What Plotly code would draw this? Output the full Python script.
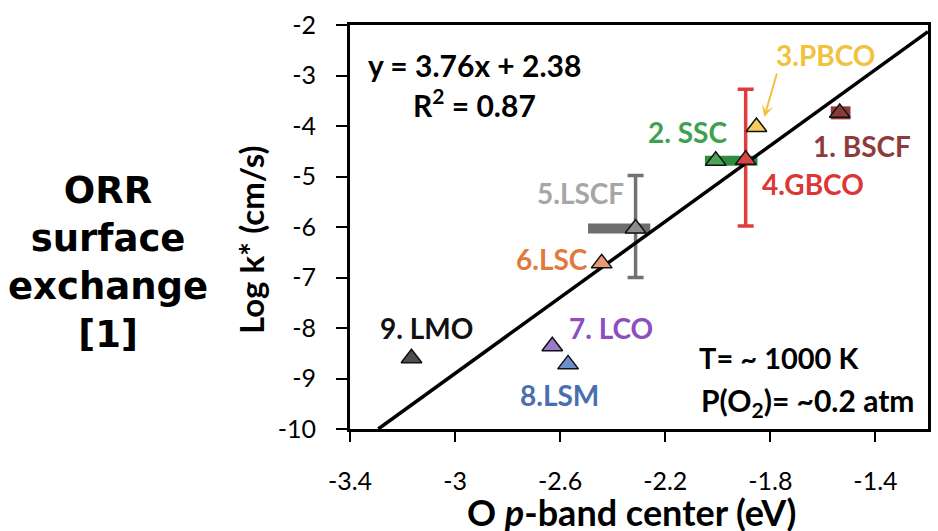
import plotly.graph_objects as go

# ---- data ----
materials = ["1. BSCF", "2. SSC", "3.PBCO", "4.GBCO", "5.LSCF", "6.LSC", "7. LCO", "8.LSM", "9. LMO"]
o_pband = [-1.536, -2.008, -1.853, -1.894, -2.313, -2.442, -2.630, -2.570, -3.166]
log_k = [-3.74, -4.69, -4.02, -4.67, -6.03, -6.72, -8.36, -8.72, -8.60]
marker_colors = ["#8B3A3A", "#4CA55A", "#F5CD5A", "#D94545", "#8C8C8C", "#E89A72", "#9B7BC9", "#6F8FC9", "#4F4F4F"]
label_colors = ["#8E3B3B", "#3EA14F", "#F0C23E", "#DC3636", "#A6A6A6", "#E07B3E", "#8B4FC0", "#4A6FB0", "#111111"]
label_x = [-1.453, -2.117, -1.592, -1.638, -2.521, -2.630, -2.408, -2.604, -3.109]
label_y = [-4.40, -4.12, -2.59, -5.15, -5.33, -6.63, -8.00, -9.33, -8.00]

# vertical error ranges (GBCO, LSCF)
gbco_y_range = [-3.27, -5.98]
lscf_y_range = [-4.98, -7.00]
# horizontal thick bars
ssc_x_range = [-2.049, -1.849]
lscf_x_range = [-2.494, -2.257]
bscf_x_range = [-1.570, -1.495]

slope, intercept = 3.76, 2.38
x_ticks = [-3.4, -3.0, -2.6, -2.2, -1.8, -1.4]
x_ticktext = ["-3.4", "-3", "-2.6", "-2.2", "-1.8", "-1.4"]
y_ticks = [-2, -3, -4, -5, -6, -7, -8, -9, -10]
y_ticktext = ["-2", "-3", "-4", "-5", "-6", "-7", "-8", "-9", "-10"]
x_range = [-3.4, -1.2]
y_range = [-10, -2]

fig = go.Figure()

# thick horizontal bars
def hbar(xr, y, color, w):
    fig.add_trace(go.Scatter(x=xr, y=[y, y], mode="lines",
                             line=dict(color=color, width=w), hoverinfo="skip", showlegend=False))

hbar(ssc_x_range, log_k[1], "#2E8B40", 10)
hbar(lscf_x_range, log_k[4], "#6E6E6E", 10)
hbar(bscf_x_range, log_k[0], "#8B3A3A", 13)

# vertical error bars
def vbar(i, yr, color):
    fig.add_trace(go.Scatter(
        x=[o_pband[i]], y=[log_k[i]], mode="markers", marker=dict(size=1, color="rgba(0,0,0,0)"),
        error_y=dict(type="data", symmetric=False, array=[yr[0] - log_k[i]],
                     arrayminus=[log_k[i] - yr[1]], color=color, thickness=3.5, width=8),
        hoverinfo="skip", showlegend=False))

vbar(3, gbco_y_range, "#E03C3C")
vbar(4, lscf_y_range, "#727272")

# fit line
x_fit = [(y_range[0] - intercept) / slope, x_range[1]]
fig.add_trace(go.Scatter(x=x_fit, y=[slope * v + intercept for v in x_fit], mode="lines",
                         line=dict(color="black", width=3.5), hoverinfo="skip", showlegend=False))

# triangles
fig.add_trace(go.Scatter(x=o_pband, y=log_k, mode="markers",
                         marker=dict(symbol="triangle-up", size=18, color=marker_colors,
                                     line=dict(color="#111111", width=1.5)),
                         text=materials, showlegend=False))

font_main = "Lato"
for i, name in enumerate(materials):
    fig.add_annotation(x=label_x[i], y=label_y[i], text="<b>%s</b>" % name, showarrow=False,
                       font=dict(family=font_main, size=28, color=label_colors[i]))

# PBCO arrow
fig.add_annotation(x=-1.823, y=-3.82, ax=13, ay=-45, text="", showarrow=True,
                   arrowhead=3, arrowsize=1, arrowwidth=2, arrowcolor="#F0C23E")

fig.add_annotation(x=-2.925, y=-2.79, text="<b>y = 3.76x + 2.38</b>", showarrow=False,
                   font=dict(family=font_main, size=30, color="black"))
fig.add_annotation(x=-2.925, y=-3.54, text="<b>R<sup>2</sup> = 0.87</b>", showarrow=False,
                   font=dict(family=font_main, size=30, color="black"))
fig.add_annotation(x=-1.766, y=-8.59, text="<b>T= ~ 1000 K</b>", showarrow=False,
                   font=dict(family=font_main, size=29, color="black"))
fig.add_annotation(x=-1.657, y=-9.47, text="<b>P(O<sub>2</sub>)= ~0.2 atm</b>", showarrow=False,
                   font=dict(family=font_main, size=30, color="black"))

# axis titles as paper annotations
fig.add_annotation(xref="paper", yref="paper", x=0.487, y=-0.206, yanchor="middle",
                   text="<b>O <i>p</i>-band center (eV)</b>", showarrow=False,
                   font=dict(family=font_main, size=36, color="black"))
fig.add_annotation(xref="paper", yref="paper", x=-0.171, y=0.468, xanchor="center", yanchor="middle",
                   text="<b>Log k* (cm/s)</b>", textangle=-90, showarrow=False,
                   font=dict(family=font_main, size=33, color="black"))

# left block text
fig.add_annotation(xref="paper", yref="paper", x=-0.418, y=0.413, xanchor="center", yanchor="middle",
                   text="<b>ORR<br>surface<br>exchange<br>[1]</b>", showarrow=False,
                   font=dict(family="DejaVu Sans", size=37, color="black"))

axis_common = dict(showline=True, linewidth=3, linecolor="black", mirror=True,
                   ticks="outside", tickwidth=2, tickcolor="black", showgrid=False, zeroline=False,
                   tickfont=dict(family=font_main, size=25, color="black"))
fig.update_xaxes(range=x_range, tickvals=x_ticks, ticktext=x_ticktext, ticklen=10,
                 ticklabelstandoff=18, **axis_common)
fig.update_yaxes(range=y_range, tickvals=y_ticks, ticktext=y_ticktext, ticklen=11,
                 ticklabelstandoff=15, **axis_common)

fig.update_layout(width=938, height=531, margin=dict(l=350, r=7, t=25, b=102),
                  plot_bgcolor="white", paper_bgcolor="white")

fig.write_html("out.html")
